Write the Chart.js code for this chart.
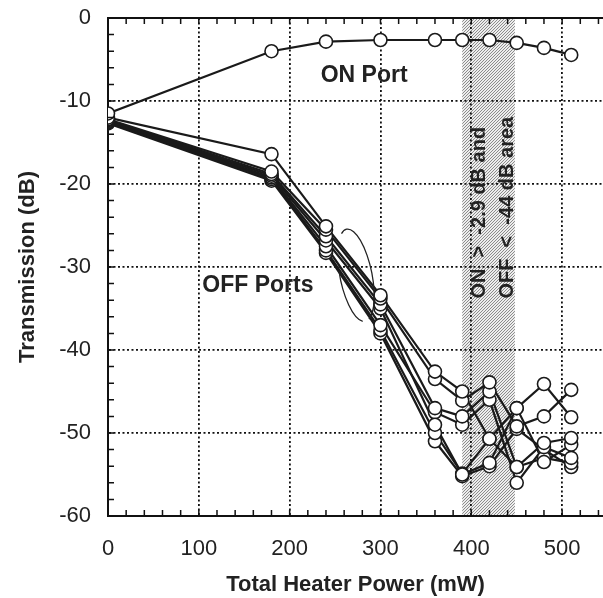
<!DOCTYPE html>
<html>
<head>
<meta charset="utf-8">
<script src="https://cdn.jsdelivr.net/npm/chart.js@4.4.1/dist/chart.umd.min.js"></script>
<style>
  html, body { margin: 0; padding: 0; background: #fff; }
  canvas { display: block; }
</style>
</head>
<body>
<canvas id="chart" width="603" height="598"></canvas>
<script>
// heater power steps (mW)
const powerMw = [0, 180, 240, 300, 360, 390, 420, 450, 480, 510];

// ON port transmission (dB)
const onPort = [-11.5, -4.0, -2.85, -2.65, -2.65, -2.65, -2.65, -3.0, -3.6, -4.45];

// OFF ports transmission (dB)
const offPort1 = [-12.0, -16.4, -25.1, -33.4, -42.6, -45.0, -50.7, -47.0, -44.1, -48.1];
const offPort2 = [-12.2, -18.5, -25.5, -33.8, -43.5, -46.1, -43.9, -49.2, -48.0, -44.8];
const offPort3 = [-12.3, -18.8, -26.3, -34.5, -47.0, -48.0, -45.0, -54.1, -51.2, -50.6];
const offPort4 = [-12.4, -19.0, -26.8, -35.0, -49.0, -55.0, -53.6, -47.0, -53.5, -51.4];
const offPort5 = [-12.5, -19.2, -27.5, -37.0, -47.5, -49.0, -46.0, -56.0, -51.7, -53.0];
const offPort6 = [-12.6, -19.4, -28.0, -37.6, -50.0, -54.9, -50.7, -54.1, -53.0, -53.6];
const offPort7 = [-12.7, -19.6, -28.3, -38.0, -51.0, -55.2, -54.0, -49.5, -52.0, -54.1];

// shaded operating window (mW)
const windowRange = [390, 448];

const allSeries = [onPort, offPort1, offPort2, offPort3, offPort4, offPort5, offPort6, offPort7];

function toPoints(values) {
    return values.map((v, i) => ({ x: powerMw[i], y: v }));
}

const datasets = [];
allSeries.forEach(series => {
    datasets.push({
        data: toPoints(series),
        borderColor: '#1a1a1a',
        borderWidth: 2.2,
        pointRadius: 0,
        showLine: true,
        order: 2
    });
    datasets.push({
        data: toPoints(series),
        showLine: false,
        pointRadius: 6.5,
        pointBackgroundColor: '#fff',
        pointBorderColor: '#1a1a1a',
        pointBorderWidth: 1.6,
        order: 1
    });
});

function stipple(ctx) {
    const c = document.createElement('canvas');
    c.width = 3; c.height = 3;
    const p = c.getContext('2d');
    p.fillStyle = '#ededed';
    p.fillRect(0, 0, 3, 3);
    p.fillStyle = '#8c8c8c';
    p.fillRect(0, 0, 1, 1);
    p.fillRect(1, 2, 1, 1);
    p.fillRect(2, 1, 1, 1);
    return ctx.createPattern(c, 'repeat');
}

const decor = {
    id: 'decor',
    beforeDraw(chart) {
        const { ctx, chartArea, scales } = chart;
        const x0 = scales.x.getPixelForValue(windowRange[0]);
        const x1 = scales.x.getPixelForValue(windowRange[1]);
        ctx.save();
        ctx.fillStyle = stipple(ctx);
        ctx.fillRect(x0, chartArea.top, x1 - x0, chartArea.bottom - chartArea.top);
        ctx.restore();
    },
    afterDatasetsDraw(chart) {
        const { ctx, chartArea, scales } = chart;
        const xs = scales.x, ys = scales.y;
        ctx.save();
        ctx.strokeStyle = '#111';
        ctx.lineWidth = 2;

        // top frame line
        ctx.beginPath();
        ctx.moveTo(chartArea.left, chartArea.top);
        ctx.lineTo(chartArea.right, chartArea.top);
        ctx.stroke();

        // inward ticks
        ctx.lineWidth = 1.5;
        ctx.beginPath();
        for (let v = 0; v <= 540; v += 20) {
            const px = xs.getPixelForValue(v);
            ctx.moveTo(px, chartArea.bottom);
            ctx.lineTo(px, chartArea.bottom - 6);
            ctx.moveTo(px, chartArea.top);
            ctx.lineTo(px, chartArea.top + 6);
        }
        for (let v = -60; v <= 0; v += 2) {
            const py = ys.getPixelForValue(v);
            ctx.moveTo(chartArea.left, py);
            ctx.lineTo(chartArea.left + 6, py);
        }
        ctx.stroke();

        // labels
        ctx.fillStyle = '#222';
        ctx.font = 'bold 23px "Liberation Sans", Arial, sans-serif';
        ctx.textAlign = 'center';
        ctx.textBaseline = 'middle';
        ctx.fillText('ON Port', xs.getPixelForValue(282), ys.getPixelForValue(-6.9));
        ctx.fillText('OFF Ports', xs.getPixelForValue(165), ys.getPixelForValue(-32.2));

        // bracket around OFF port bundle
        const cx = xs.getPixelForValue(273), cy = ys.getPixelForValue(-31.0);
        ctx.lineWidth = 1.3;
        ctx.strokeStyle = '#222';
        ctx.beginPath();
        ctx.ellipse(cx, cy, 16, 47, -0.2, -Math.PI * 0.62, Math.PI * 0.42);
        ctx.stroke();
        ctx.beginPath();
        ctx.ellipse(cx, cy, 16, 47, -0.2, Math.PI * 0.55, Math.PI * 1.05);
        ctx.stroke();

        // rotated window note
        ctx.font = 'bold 20px "Liberation Sans", Arial, sans-serif';
        ctx.textAlign = 'left';
        ctx.translate(xs.getPixelForValue(409), ys.getPixelForValue(-33.8));
        ctx.rotate(-Math.PI / 2);
        ctx.fillText('ON  >  -2.9 dB and', 0, 0);
        ctx.fillText('OFF  <  -44 dB area', 0, 28);
        ctx.restore();
    }
};

const font = { family: '"Liberation Sans", Arial, sans-serif', size: 22 };

new Chart(document.getElementById('chart'), {
    type: 'scatter',
    data: { datasets: datasets },
    options: {
        responsive: false,
        animation: false,
        layout: { autoPadding: false, padding: { top: 18, right: 0, left: 0, bottom: 0 } },
        plugins: { legend: { display: false }, tooltip: { enabled: false } },
        scales: {
            x: {
                type: 'linear',
                min: 0,
                max: 545,
                afterFit: s => { s.height = 82; s.paddingLeft = 0; s.paddingRight = 0; },
                ticks: { stepSize: 100, includeBounds: false, color: '#222', font: font, padding: 20, maxRotation: 0 },
                grid: { color: '#111', lineWidth: 1.8, drawTicks: false },
                border: { display: true, color: '#111', width: 2, dash: [2, 2.5] },
                title: { display: true, text: 'Total Heater Power (mW)', color: '#222',
                         font: { family: font.family, size: 22, weight: 'bold' }, padding: { top: 6, bottom: 0 } }
            },
            y: {
                type: 'linear',
                min: -60,
                max: 0,
                afterFit: s => { s.width = 108; s.paddingTop = 0; s.paddingBottom = 0; },
                ticks: { stepSize: 10, color: '#222', font: font, padding: 17 },
                grid: { color: '#111', lineWidth: 1.8, drawTicks: false },
                border: { display: true, color: '#111', width: 2, dash: [2, 2.5] },
                title: { display: true, text: 'Transmission (dB)', color: '#222',
                         font: { family: font.family, size: 22, weight: 'bold' }, padding: { top: 15, bottom: 4 } }
            }
        }
    },
    plugins: [decor]
});
</script>
</body>
</html>
